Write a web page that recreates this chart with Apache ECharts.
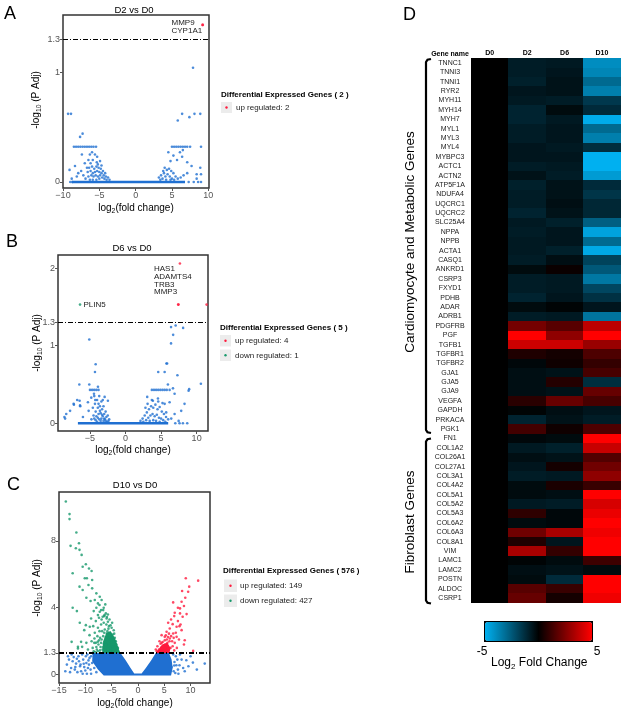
<!DOCTYPE html>
<html lang="en">
<head>
  <meta charset="utf-8">
  <title>Volcano plots and fold change heatmap</title>
  <script src="https://cdn.jsdelivr.net/npm/echarts@6/dist/echarts.min.js"></script>
  <style>
    body { margin: 0; background: white; }
    #chart { width: 625px; height: 712px; }
  </style>
</head>
<body>
  <div id="chart"></div>
  <script>
    // --- Data.

    // Panel A, D2 vs D0: [log2 fold change, -log10 p adj].
    const A_BLUE = [
      [-9.3,0.62],[-8.9,0.62],[-7.65,0.41],[-7.3,0.44],
      [-8.5,0.32],[-8.2,0.32],[-7.9,0.32],[-7.6,0.32],[-7.3,0.32],[-7.0,0.32],[-6.7,0.32],[-6.4,0.32],[-6.1,0.32],[-5.8,0.32],[-5.45,0.32],
      [-7.4,0.25],[-6.3,0.25],[-5.6,0.25],[-5.3,0.23],[-6.0,0.27],
      [-6.5,0.2],[-5.9,0.2],[-5.35,0.18],[-4.9,0.19],[-7.0,0.17],[-6.2,0.17],
      [-8.35,0.145],[-9.1,0.11],[-7.9,0.08],[-8.8,0.03],[-8.7,0.0],[-9.0,0.0],
      [-6.4,0.13],[-6.0,0.14],[-5.7,0.12],[-5.4,0.14],[-5.1,0.13],[-4.8,0.12],[-4.5,0.1],[-4.2,0.08],
      [-6.6,0.09],[-6.2,0.1],[-5.9,0.08],[-5.6,0.09],[-5.3,0.1],[-5.0,0.09],[-4.7,0.08],[-4.4,0.06],[-4.1,0.05],[-3.8,0.04],
      [-6.5,0.05],[-6.1,0.06],[-5.8,0.05],[-5.5,0.06],[-5.2,0.05],[-4.9,0.06],[-4.6,0.04],[-4.3,0.03],[-4.0,0.02],[-3.6,0.02],
      [-7.2,0.06],[-6.9,0.03],[-6.7,0.13],[-5.0,0.03],[-5.4,0.02],[-5.9,0.02],[-6.3,0.02],[-4.7,0.15],[-5.2,0.16],[-7.5,0.1],[-8.1,0.05],
      [7.9,1.04],[6.4,0.62],[7.4,0.59],[8.1,0.62],[8.9,0.62],[5.8,0.56],
      [5.0,0.32],[5.3,0.32],[5.6,0.32],[5.9,0.32],[6.2,0.32],[6.5,0.32],[6.8,0.32],[7.1,0.32],[7.5,0.32],[9.0,0.32],
      [4.5,0.27],[5.2,0.24],[6.1,0.27],[6.5,0.29],
      [4.8,0.19],[5.7,0.2],[6.4,0.23],[7.1,0.18],
      [7.7,0.145],[8.4,0.07],[8.9,0.13],[9.0,0.07],[8.4,0.03],[8.6,0.0],[7.1,0.08],[7.3,0.0],[8.0,0.0],[9.0,0.0],
      [3.2,0.04],[3.5,0.06],[3.8,0.1],[4.0,0.13],[4.3,0.11],[4.6,0.12],[4.9,0.1],[5.2,0.08],[5.5,0.05],
      [3.4,0.02],[3.7,0.03],[4.1,0.05],[4.4,0.07],[4.7,0.05],[5.0,0.03],[5.3,0.02],[5.8,0.03],[6.2,0.04],[6.6,0.06],[4.2,0.02],[3.9,0.08],[4.8,0.02]
    ];
    const A_RED = [[9.2,1.43],[9.25,1.43]];
    // The many genes sitting on zero merge into one thick line.
    const A_BASE = [[-8.8,0],[6.8,0]];

    // Panel B, D6 vs D0.
    const B_BLUE = [
      [6.4,1.24],[7.05,1.26],[8.1,1.23],[6.7,1.14],[6.4,1.03],[-5.1,1.08],
      [-4.2,0.76],[-4.3,0.66],[5.75,0.77],[5.85,0.77],[4.6,0.66],[5.5,0.66],[7.3,0.62],[10.6,0.51],[8.95,0.44],
      [-6.5,0.5],[-5.1,0.5],
      [-5.0,0.43],[-4.7,0.43],[-4.4,0.43],[-4.1,0.43],[-3.8,0.43],
      [3.7,0.43],[4.0,0.43],[4.3,0.43],[4.6,0.43],[4.9,0.43],[5.2,0.43],[5.5,0.43],[5.8,0.43],[6.2,0.43],
      [-7.3,0.25],[-6.8,0.3],[-6.4,0.23],[-8.5,0.06],[-7.8,0.16],[-8.6,0.08],
      [-7.26,0.24],[-6.46,0.29],[-6.37,0.22],[-5.29,0.27],[-5.19,0.16],[-4.44,0.38],[-3.88,0.47],[-4.82,0.33],[-4.26,0.3],
      [-2.94,0.34],[-2.48,0.29],[-8.34,0.12],[-5.99,0.08],
      [5.96,0.5],[6.67,0.45],[6.9,0.38],[3.05,0.34],[3.85,0.29],[4.56,0.32],[5.5,0.25],[6.2,0.27],
      [8.3,0.25],[8.87,0.42],[7.83,0.16],[6.9,0.12],[5.72,0.14],[6.43,0.06],[7.47,0.03],[8.07,0.0],[8.68,0.0],[7.0,0.0],[7.6,0.0],
      [-4.6,0.2],[-4.3,0.25],[-4.0,0.3],[-3.7,0.35],[-3.4,0.28],[-3.1,0.22],[-2.8,0.15],[-2.5,0.1],[-2.3,0.05],
      [-4.5,0.1],[-4.2,0.15],[-3.9,0.2],[-3.6,0.22],[-3.3,0.18],[-3.0,0.12],[-2.7,0.08],[-2.4,0.03],
      [-4.8,0.05],[-4.4,0.06],[-4.1,0.09],[-3.8,0.12],[-3.5,0.13],[-3.2,0.09],[-2.9,0.05],[-2.6,0.02],
      [-4.0,0.02],[-3.7,0.05],[-3.4,0.06],[-3.1,0.03],[-3.6,0.16],[-3.3,0.11],[-4.2,0.04],[-3.9,0.07],[-3.0,0.06],[-2.8,0.03],[-3.5,0.03],[-3.8,0.25],[-4.4,0.35],[-3.2,0.3],
      [2.1,0.03],[2.4,0.06],[2.7,0.1],[3.0,0.14],[3.3,0.18],[3.6,0.22],[3.9,0.2],[4.2,0.24],[4.5,0.18],[4.8,0.21],[5.1,0.15],[5.4,0.12],[5.7,0.08],[6.0,0.05],
      [2.5,0.02],[2.9,0.04],[3.2,0.07],[3.5,0.1],[3.8,0.12],[4.1,0.09],[4.4,0.11],[4.7,0.07],[5.0,0.06],[5.3,0.04],[5.6,0.02],[3.4,0.03],[3.9,0.04],[4.3,0.03],[4.8,0.02],
      [4.6,0.28],[3.7,0.3],[5.2,0.26],[2.8,0.2],[3.1,0.25]
    ];
    const B_RED = [[7.65,2.06],[7.4,1.53],[7.45,1.53],[11.4,1.53]];
    const B_GREEN = [[-6.4,1.53]];
    const B_BASE = [[-6.7,0],[6.0,0]];

    // Panel C, D10 vs D0.
    const C_BLUE = [
      [-12.4,0.8],[-11.75,0.66],[-11.0,0.5],[-13.1,0.9],[-12.0,0.3],[-10.4,0.9],[-9.8,0.7],[-10.8,0.2],[-9.2,1.0],[-9.5,0.4],[-13.8,0.2],
      [-8.9,1.1],[-8.7,0.7],[-8.3,0.4],[-7.9,0.15],[-8.5,1.25],[-9.6,1.2],[-10.2,0.45],[-11.3,1.1],[-12.7,0.4],
      [-13.5,0.6],[-12.9,0.15],[-12.2,1.05],[-11.6,0.95],[-11.9,0.45],[-11.2,0.8],[-10.9,0.6],[-10.6,1.2],[-10.0,0.25],[-9.9,1.1],
      [-9.3,0.6],[-9.0,0.3],[-9.4,0.85],[-10.3,0.65],[-11.5,0.15],[-12.6,1.2],[-13.3,1.1],[-8.9,0.05],[-9.7,0.05],[-10.5,0.05],
      [6.95,0.76],[7.9,0.56],[9.2,0.86],[10.45,0.72],[12.7,0.66],[6.4,0.46],[7.3,0.56],[7.2,1.1],[8.3,0.9],[6.8,0.2],[7.6,0.3],[8.6,0.4],[6.7,1.2],
      [7.1,0.1],[7.5,0.9],[8.0,1.2],[8.9,0.2],[9.6,0.5],[11.2,0.3],[6.9,0.55],[7.7,0.05],[10.0,1.1]
    ];
    // Outline of the solid blue mass of non significant genes.
    const C_BLUE_CLOUD = [
      [-8.6,1.3],[-3.3,1.3],[-2.3,0.85],[-1.4,0.4],[-0.7,0.07],[0.7,0.07],[1.5,0.4],[2.5,0.85],[3.4,1.3],
      [5.9,1.3],[6.4,0.9],[6.6,0.4],[6.3,-0.05],[-6.5,-0.05],[-7.6,0.3],[-8.7,0.8]
    ];
    const C_GREEN = [
      [-13.7,10.35],[-13.0,9.6],[-13.0,9.3],[-11.7,8.5],[-11.2,7.86],[-12.8,7.7],[-11.8,7.56],[-11.1,7.46],[-10.7,7.16],
      [-9.9,6.6],[-10.5,6.45],[-9.3,6.35],[-12.4,6.06],[-10.1,5.76],[-9.7,5.76],[-8.8,6.2],[-8.7,5.66],
      [-11.1,5.26],[-10.5,5.06],[-9.4,5.36],[-8.7,5.16],
      [-7.9,4.86],[-7.25,4.66],[-8.2,4.46],[-7.6,4.26],[-6.9,4.46],
      [-12.4,4.0],[-11.6,3.8],
      [-7.25,3.76],[-6.6,3.86],[-6.1,3.66],[-6.7,3.46],[-5.95,3.36],
      [-11.05,3.1],[-9.9,2.96],[-9.15,2.86],[-12.6,1.96],[-11.4,1.56],[-10.6,1.66],
      [-8.9,3.36],[-10.2,2.66],[-9.2,2.36],[-8.26,2.16],[-7.63,1.96],[-11.4,1.66],[-10.8,1.96],
      [-7.3,4.16],[-7.0,3.86],[-7.6,3.56],[-6.35,3.56],[-5.7,3.16],
      [-7.0,3.0],[-6.5,3.1],[-6.0,3.0],[-5.5,2.9],[-5.0,2.8],[-6.8,2.6],[-6.3,2.7],[-5.8,2.6],[-5.3,2.5],[-4.8,2.4],[-4.4,2.2],
      [-7.2,2.2],[-6.6,2.3],[-6.1,2.2],[-5.6,2.2],[-5.1,2.1],[-4.6,1.95],[-4.1,1.8],[-3.8,1.6],
      [-7.5,1.8],[-7.0,1.9],[-6.5,1.85],[-6.0,1.8],[-5.5,1.75],[-5.0,1.7],[-4.5,1.6],[-4.0,1.45],[-3.7,1.38],
      [-7.8,1.5],[-7.2,1.45],[-6.7,1.5],[-6.2,1.45],[-5.7,1.4],[-5.2,1.45],[-4.7,1.38],[-4.3,1.35],[-8.4,1.4],[-8.8,2.0],[-8.2,2.5],[-7.6,2.8],[-5.4,3.3],[-4.9,3.1],
      [-8.6,1.6],[-8.0,1.9],[-7.7,2.3],[-7.3,2.6],[-6.9,3.3],[-6.4,3.5],[-5.9,3.45],[-5.6,2.75],[-5.2,2.95],[-4.6,2.65],[-4.3,1.75],
      [-3.9,1.55],[-4.2,2.0],[-4.9,2.2],[-5.3,2.2],[-5.9,2.45],[-6.4,2.5],[-6.9,2.1],[-7.4,2.05],[-7.9,1.65],[-8.3,1.9],[-6.1,1.6],
      [-5.3,1.6],[-4.8,1.5],[-6.6,1.65],[-7.1,1.65],[-7.6,1.4],[-8.1,1.35],[-9.5,1.5],[-9.8,1.9],[-8.5,2.9],[-8.0,3.2],[-7.4,3.4],
      [-7.9,4.0],[-6.5,4.0],[-6.2,4.2],[-8.4,3.8],[-9.0,4.4],[-9.8,4.6],[-6.2,1.95],[-5.1,1.9],[-4.5,2.45],[-5.7,3.6]
    ];
    const C_GREEN_CLOUD = [[-6.8,1.3],[-3.4,1.3],[-3.8,1.7],[-4.4,2.2],[-5.2,2.6],[-6.0,2.5],[-6.6,2.0]];
    const C_RED = [
      [9.1,5.76],[11.45,5.62],[9.75,5.26],[9.55,4.96],
      [6.7,4.32],[8.3,4.36],[8.75,4.1],[8.0,3.96],
      [7.0,3.7],[8.0,3.66],[9.25,3.62],[8.5,3.46],
      [5.75,3.1],[6.6,3.02],[7.35,2.86],[6.05,2.76],[5.45,2.56],
      [4.5,2.36],[5.1,2.26],[6.05,2.16],[6.7,2.46],[7.35,2.26],[8.3,2.66],[8.9,2.06],
      [10.5,1.42],[8.75,1.8],
      [3.6,1.4],[4.0,1.5],[4.4,1.6],[4.8,1.7],[5.2,1.8],[5.6,1.9],[6.0,2.0],[3.8,1.35],[4.2,1.38],[4.6,1.42],[5.0,1.45],
      [5.4,1.5],[5.8,1.55],[6.2,1.6],[6.6,1.7],[4.3,1.85],[4.7,1.95],[5.1,2.05],[5.5,2.1],[6.3,2.3],[7.0,1.9],[7.4,1.6],
      [5.9,2.45],[6.9,1.45],[7.8,2.1],[7.6,3.2],[6.3,3.3],[6.9,3.5],[5.0,1.35],[4.4,1.35],[3.9,1.4],
      [3.4,1.5],[3.7,1.7],[4.1,2.0],[4.5,1.9],[5.3,2.35],[5.7,2.25],[6.5,2.0],[6.8,2.2],[7.2,2.5],[7.9,2.9],[8.1,3.0],
      [7.6,4.0],[8.4,5.0],[9.0,4.6],[5.2,1.6]
    ];
    const C_RED_CLOUD = [[3.5,1.3],[6.0,1.3],[6.2,1.6],[5.6,1.9],[4.6,1.8],[3.9,1.5]];

    // Panel D, log2 fold change heatmap.
    const DAYS = ['D0', 'D2', 'D6', 'D10'];
    const GENES = [
      'TNNC1','TNNI3','TNNI1','RYR2','MYH11','MYH14','MYH7','MYL1','MYL3','MYL4',
      'MYBPC3','ACTC1','ACTN2','ATP5F1A','NDUFA4','UQCRC1','UQCRC2','SLC25A4','NPPA','NPPB',
      'ACTA1','CASQ1','ANKRD1','CSRP3','FXYD1','PDHB','ADAR','ADRB1','PDGFRB','PGF',
      'TGFB1','TGFBR1','TGFBR2','GJA1','GJA5','GJA9','VEGFA','GAPDH','PRKACA','PGK1',
      'FN1','COL1A2','COL26A1','COL27A1','COL3A1','COL4A2','COL5A1','COL5A2','COL5A3','COL6A2',
      'COL6A3','COL8A1','VIM','LAMC1','LAMC2','POSTN','ALDOC','CSRP1'
    ];
    const D0_FC = [
      0,0,0,0,0,0,0,0,0,0, 0,0,0,0,0,0,0,0,0,0, 0,0,0,0,0,0,0,0,0,0,
      0,0,0,0,0,0,0,0,0,0, 0,0,0,0,0,0,0,0,0,0, 0,0,0,0,0,0,0,0
    ];
    const D2_FC = [
      -0.8,-0.8,-0.9,-0.6,-0.7,-1.0,-1.0,-0.8,-0.8,-0.6,
      -0.6,-0.8,-0.5,-0.9,-0.8,-0.8,-1.0,-0.7,-0.8,-0.7,
      -0.7,-0.8,-0.3,-0.8,-0.8,-1.0,-0.3,-0.8,2.3,5.0,
      4.0,0.6,-0.2,-0.4,-0.4,-0.4,0.8,-0.1,-1.0,1.3,
      -0.2,-0.7,-0.4,-0.6,-0.8,-0.3,-0.3,-0.7,0.9,-0.3,
      2.2,0.6,3.3,-0.1,-0.4,-0.3,1.7,2.0
    ];
    const D6_FC = [
      -0.7,-0.6,-0.5,-0.5,-0.8,-0.3,-0.7,-0.6,-0.6,-0.7,
      -0.6,-0.7,-0.8,-0.5,-0.5,-0.4,-0.5,-0.9,-0.6,-0.6,
      -0.9,-0.4,0.2,-0.7,-0.7,-0.6,-0.1,-0.7,1.7,2.8,
      4.0,0.4,0.3,-0.5,0.7,-0.5,2.0,-0.4,-0.5,0.3,
      -0.3,-0.9,-0.5,0.4,-0.7,0.5,-0.4,-0.8,-0.2,-0.2,
      3.3,-0.6,1.0,-0.3,-0.5,-1.2,1.1,0.4
    ];
    const D10_FC = [
      -4.0,-3.8,-3.0,-3.6,-1.6,-1.2,-4.9,-3.0,-3.6,-1.3,
      -5.0,-5.0,-4.4,-1.2,-1.5,-1.1,-1.1,-2.7,-4.6,-3.0,
      -4.8,-1.9,-2.5,-3.4,-2.0,-1.4,-0.6,-3.3,3.7,5.0,
      3.0,1.5,1.0,1.4,-1.3,2.0,1.4,-0.6,-0.8,1.5,
      5.0,3.9,1.6,2.2,2.8,1.1,5.0,4.2,4.6,5.0,
      4.7,5.0,5.0,1.2,-0.3,5.0,5.0,4.7
    ];

    // --- Styles.

    const FONT = '"Liberation Sans", Arial, sans-serif';
    const BLUE = '#1f6fd1';
    const GREEN = '#17996b';
    const RED = '#ff1a3d';
    const GRAY = '#555';

    // ggplot writes negative ticks with a real minus sign.
    function minusFmt(v) {
      return v < 0 ? '\u2212' + Math.abs(v) : String(v);
    }

    function valueAxis(grid, min, max, ticks) {
      return {
        type: 'value', gridIndex: grid, min: min, max: max,
        splitLine: { show: false },
        axisLine: { show: false, onZero: false },
        axisTick: { show: true, length: 3, lineStyle: { color: GRAY }, customValues: ticks },
        axisLabel: { color: GRAY, fontSize: 9, fontFamily: FONT, margin: 3, customValues: ticks, formatter: minusFmt }
      };
    }

    function panelGrid(left, top, width, height) {
      return {
        left: left, top: top, width: width, height: height, show: true,
        borderColor: '#333', borderWidth: 1.5, backgroundColor: 'rgba(0,0,0,0)',
        outerBoundsMode: 'none'
      };
    }

    function points(idx, data, color, extra) {
      return Object.assign({
        type: 'scatter', xAxisIndex: idx, yAxisIndex: idx, data: data,
        symbolSize: 2.6, itemStyle: { color: color }, silent: true
      }, extra || {});
    }

    // The dot-dash significance cut-off at -log10(0.05).
    function cutoff(width) {
      return {
        markLine: {
          silent: true, symbol: 'none', label: { show: false },
          lineStyle: { color: '#000', type: [5, 2, 1, 2], width: width },
          data: [{ yAxis: 1.3 }]
        }
      };
    }

    function baseline(idx, data) {
      return {
        type: 'line', xAxisIndex: idx, yAxisIndex: idx, data: data, symbol: 'none',
        lineStyle: { color: BLUE, width: 2.6 }, silent: true
      };
    }

    // Filled outline for regions where points overlap into a solid mass.
    function cloud(idx, pts, color) {
      return {
        type: 'custom', xAxisIndex: idx, yAxisIndex: idx, silent: true, data: [[0, 0]],
        renderItem: (params, api) => ({
          type: 'polygon',
          shape: { points: pts.map(p => api.coord(p)) },
          style: { fill: color }
        })
      };
    }

    // --- Graphic texts.

    function text(x, y, str, opts) {
      return {
        type: 'text', x: x, y: y, silent: true,
        rotation: (opts && opts.rotation) || 0,
        style: Object.assign({
          text: str, fontFamily: FONT, fontSize: 9, fill: '#000',
          align: 'left', verticalAlign: 'middle'
        }, opts && opts.style)
      };
    }

    function subText(x, y, parts, size, rotation) {
      return {
        type: 'text', x: x, y: y, rotation: rotation || 0, silent: true,
        style: {
          text: parts, align: 'center', verticalAlign: 'middle',
          rich: {
            n: { fontFamily: FONT, fontSize: size, lineHeight: size + 4, fill: '#000' },
            s: { fontFamily: FONT, fontSize: size * 0.68, lineHeight: size * 0.8, verticalAlign: 'bottom', fill: '#000' }
          }
        }
      };
    }

    function legendKey(x, y, w, h, color) {
      return [
        { type: 'rect', silent: true, shape: { x: x, y: y, width: w, height: h }, style: { fill: '#ececec' } },
        { type: 'circle', silent: true, shape: { cx: x + w / 2, cy: y + h / 2, r: 1.2 }, style: { fill: color } }
      ];
    }

    function bracket(top, bottom) {
      return {
        type: 'polyline', silent: true,
        shape: { points: [[431, top], [427.5, top + 0.8], [426, top + 3], [426, bottom - 3], [427.5, bottom - 0.8], [431, bottom]] },
        style: { stroke: '#000', lineWidth: 2.2, fill: null }
      };
    }

    const Y_TITLE = '{n|-log}{s|10}{n| (P Adj)}';
    const X_TITLE = '{n|log}{s|2}{n|(fold change)}';
    const LETTER = { style: { fontSize: 18, verticalAlign: 'top' } };
    const BOLD8 = { style: { fontSize: 8, fontWeight: 'bold' } };
    const SMALL8 = { style: { fontSize: 8, fill: '#222' } };
    const TITLE = { style: { fontSize: 9.5, align: 'center' } };
    const LEG = { style: { fontSize: 8, fill: '#222' } };

    const graphics = [
      // Panel letters.
      text(4, 5, 'A', LETTER),
      text(6, 233, 'B', LETTER),
      text(7, 476, 'C', LETTER),
      text(403, 6, 'D', LETTER),

      // Titles and axis titles.
      text(134, 10, 'D2 vs D0', TITLE),
      text(132, 248, 'D6 vs D0', TITLE),
      text(135, 485, 'D10 vs D0', TITLE),
      subText(36, 100, Y_TITLE, 10, Math.PI / 2),
      subText(37, 343, Y_TITLE, 10, Math.PI / 2),
      subText(37, 588, Y_TITLE, 10, Math.PI / 2),
      subText(136, 208, X_TITLE, 10),
      subText(133, 450, X_TITLE, 10),
      subText(135, 703, X_TITLE, 10),

      // Gene annotations.
      text(171.5, 22.5, 'MMP9', SMALL8),
      text(171.5, 30.5, 'CYP1A1', SMALL8),
      text(83.5, 304.5, 'PLIN5', SMALL8),
      text(154, 268.5, 'HAS1', SMALL8),
      text(154, 276.5, 'ADAMTS4', SMALL8),
      text(154, 284.3, 'TRB3', SMALL8),
      text(154, 292, 'MMP3', SMALL8),

      // Legends.
      text(221, 94.5, 'Differential Expressed Genes ( 2 )', BOLD8),
      ...legendKey(221, 102, 11, 11, RED),
      text(236, 108, 'up regulated: 2', LEG),
      text(220, 327.5, 'Differential Expressed Genes ( 5 )', BOLD8),
      ...legendKey(220, 335, 11, 11.5, RED),
      text(235, 341, 'up regulated: 4', LEG),
      ...legendKey(220, 349.5, 11, 11.5, GREEN),
      text(235, 355.5, 'down regulated: 1', LEG),
      text(223, 571, 'Differential Expressed Genes ( 576 )', BOLD8),
      ...legendKey(224, 579.5, 13, 12.5, RED),
      text(240, 585.7, 'up regulated: 149', LEG),
      ...legendKey(224, 594.5, 13, 12.5, GREEN),
      text(240, 600.7, 'down regulated: 427', LEG),

      // Heatmap header, gene groups and colour bar labels.
      text(450, 54, 'Gene name', { style: { fontSize: 7, fontWeight: 'bold', align: 'center' } }),
      bracket(59, 433),
      bracket(438.5, 603.5),
      text(410, 242, 'Cardiomyocyte and Metabolic Genes', { rotation: Math.PI / 2, style: { fontSize: 13.5, align: 'center' } }),
      text(410, 522, 'Fibroblast Genes', { rotation: Math.PI / 2, style: { fontSize: 13.5, align: 'center' } }),
      text(482, 652, '-5', { style: { fontSize: 12, align: 'center' } }),
      text(597, 652, '5', { style: { fontSize: 12, align: 'center' } }),
      {
        type: 'text', x: 491, y: 663, silent: true,
        style: {
          text: '{n|Log}{s|2}{n| Fold Change}', align: 'left', verticalAlign: 'middle',
          rich: {
            n: { fontFamily: FONT, fontSize: 12, lineHeight: 16, fill: '#000' },
            s: { fontFamily: FONT, fontSize: 8, lineHeight: 9, verticalAlign: 'bottom', fill: '#000' }
          }
        }
      }
    ];

    // --- Heatmap cells.

    const FOLD_CHANGES = [D0_FC, D2_FC, D6_FC, D10_FC];
    const heatData = [];
    FOLD_CHANGES.forEach((col, d) => col.forEach((v, g) => heatData.push([d, g, v])));

    // Cell edges are snapped to whole pixels so neighbouring rows share an edge
    // and no anti-aliased seam shows between them.
    const heatmap = {
      type: 'custom', xAxisIndex: 3, yAxisIndex: 3, data: heatData, silent: true,
      dimensions: ['day', 'gene', 'fc'], encode: { x: 0, y: 1 },
      renderItem: (params, api) => {
        const p = api.coord([api.value(0), api.value(1)]);
        const s = api.size([1, 1]);
        const x0 = Math.round(p[0] - s[0] / 2), x1 = Math.round(p[0] + s[0] / 2);
        const y0 = Math.round(p[1] - s[1] / 2), y1 = Math.round(p[1] + s[1] / 2);
        return {
          type: 'rect',
          shape: { x: x0, y: y0, width: x1 - x0, height: y1 - y0 },
          style: { fill: api.visual('color') }
        };
      }
    };

    // --- Chart.

    const series = [
      baseline(0, A_BASE),
      points(0, A_BLUE, BLUE),
      points(0, A_RED, RED, cutoff(1.2)),

      baseline(1, B_BASE),
      points(1, B_BLUE, BLUE),
      points(1, B_GREEN, GREEN),
      points(1, B_RED, RED, cutoff(1.2)),

      cloud(2, C_BLUE_CLOUD, BLUE),
      points(2, C_BLUE, BLUE),
      cloud(2, C_GREEN_CLOUD, GREEN),
      points(2, C_GREEN, GREEN),
      cloud(2, C_RED_CLOUD, RED),
      points(2, C_RED, RED, cutoff(2)),

      heatmap
    ];

    const option = {
      animation: false,
      backgroundColor: '#fff',
      textStyle: { fontFamily: FONT },
      grid: [
        panelGrid(63, 15, 146, 173),
        panelGrid(58, 255, 150, 176),
        panelGrid(59, 492, 151, 191),
        { left: 471, top: 58.3, width: 149.7, height: 544.4, show: false, outerBoundsMode: 'none' }
      ],
      xAxis: [
        valueAxis(0, -10, 10.1, [-10, -5, 0, 5, 10]),
        valueAxis(1, -9.5, 11.6, [-5, 0, 5, 10]),
        valueAxis(2, -15, 13.7, [-15, -10, -5, 0, 5, 10]),
        {
          type: 'category', gridIndex: 3, data: DAYS, position: 'top',
          axisLine: { show: false }, axisTick: { show: false }, splitLine: { show: false },
          axisLabel: { fontSize: 7, fontWeight: 'bold', color: '#000', fontFamily: FONT, margin: 2 }
        }
      ],
      yAxis: [
        valueAxis(0, -0.055, 1.52, [0, 1, 1.3]),
        valueAxis(1, -0.1, 2.17, [0, 1, 1.3, 2]),
        valueAxis(2, -0.5, 10.92, [0, 1.3, 4, 8]),
        {
          type: 'category', gridIndex: 3, data: GENES, inverse: true,
          axisLine: { show: false }, axisTick: { show: false }, splitLine: { show: false },
          axisLabel: { interval: 0, fontSize: 7, color: '#222', fontFamily: FONT, align: 'center', margin: 21 }
        }
      ],
      visualMap: {
        type: 'continuous', seriesIndex: series.length - 1, dimension: 2, min: -5, max: 5,
        orient: 'horizontal', left: 484, top: 621, itemWidth: 19, itemHeight: 107,
        calculable: false, hoverLink: false, text: null, showLabel: false,
        padding: 0, borderColor: '#000', borderWidth: 2,
        inRange: { color: ['#00b0f0', '#000000', '#ff0000'] },
        textStyle: { fontSize: 0 }
      },
      series: series,
      graphic: graphics
    };

    const chart = echarts.init(document.getElementById('chart'), null, { renderer: 'canvas' });
    chart.setOption(option);
  </script>
</body>
</html>
